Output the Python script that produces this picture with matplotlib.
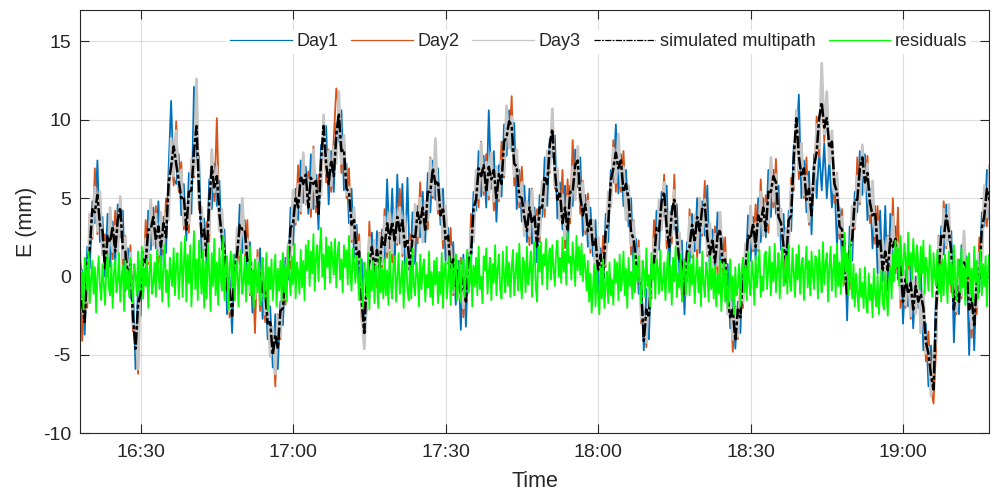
from __future__ import annotations

import matplotlib

matplotlib.use("Agg")

import matplotlib.dates as mdates
import matplotlib.pyplot as plt
import numpy as np

# Series start at 16:18:00, E component in mm
START = np.datetime64("2021-01-01T16:18:00")
DAY_STEP_S = 30  # days and multipath: one value every 30 s
RES_STEP_S = 15  # residuals: one value every 15 s

day1 = [
    -1.1, 0.4, -3.7, 1.9, 0.5, 4.8, 3.4, 7.4, 2.2, 3.8, 0.0, 4.0, 0.6, 3.5, 0.7, 4.6, 2.5, 4.2, -0.9, 1.8,
    -1.4, -0.6, -5.9, -0.4, -2.5, 1.6, 0.1, 4.2, 1.7, 4.4, 1.8, 4.8, 0.3, 3.8, 1.5, 6.8, 11.2, 6.2, 5.9, 7.8,
    3.9, 5.9, 2.3, 6.6, 4.0, 12.1, 7.6, 7.7, 1.2, 3.7, 0.8, 6.2, 4.3, 7.2, 4.5, 6.1, 1.7, 3.0, -2.4, 0.0,
    -3.6, 1.4, 0.8, 4.6, 1.5, 3.6, 0.1, 2.2, -2.3, 1.0, -1.0, 1.8, -2.7, -0.5, -4.0, -1.9, -5.8, -2.4, -5.9, -1.6,
    -3.1, 1.2, -0.2, 4.4, 2.0, 5.6, 3.6, 7.4, 4.7, 7.0, 4.0, 7.8, 4.3, 6.5, 3.0, 8.4, 7.7, 9.6, 4.6, 8.0,
    5.4, 9.8, 8.6, 10.6, 5.5, 7.2, 3.4, 5.6, 1.2, 3.3, 0.0, 1.1, -4.2, 0.2, 0.0, 2.8, -0.3, 2.9, -0.7, 3.0,
    0.9, 6.2, 1.8, 5.6, 0.8, 6.5, 2.1, 5.9, 0.7, 6.3, 0.0, 4.1, 0.8, 4.5, 2.5, 5.4, 2.2, 6.6, 4.1, 7.4,
    4.9, 6.9, 3.3, 5.6, 1.0, 3.1, -0.4, 2.2, -1.8, 1.0, -3.4, 1.4, -3.2, 1.5, 0.5, 5.4, 4.2, 8.0, 5.1, 7.7,
    4.4, 10.6, 5.6, 8.0, 3.5, 7.1, 5.1, 9.7, 7.7, 10.6, 8.0, 9.8, 4.3, 6.8, 3.5, 5.8, 2.2, 5.6, 2.1, 4.4,
    0.9, 5.2, 3.8, 7.6, 4.5, 8.8, 7.6, 9.0, 3.7, 6.0, 3.0, 5.8, 1.3, 5.8, 4.5, 8.1, 5.7, 7.6, 2.6, 5.2,
    1.9, 4.4, 1.3, 3.6, -1.0, 1.8, -0.9, 4.0, 2.2, 6.8, 6.0, 9.7, 5.3, 7.8, 4.5, 6.8, 3.2, 5.0, 0.1, 2.4,
    -1.1, -0.1, -4.7, -0.8, -4.0, 0.8, 0.1, 4.2, 1.7, 5.4, 3.8, 5.8, 0.3, 4.5, 3.0, 4.6, 0.2, 2.3, -2.4, 2.2,
    0.9, 4.0, 1.6, 5.0, 1.5, 4.8, 2.6, 5.8, 0.2, 3.0, 0.5, 4.1, 0.3, 2.5, -1.0, 0.8, -3.3, -1.0, -4.6, -1.6,
    -3.6, 0.9, -0.2, 3.9, 1.0, 3.8, 1.1, 5.0, 2.2, 5.0, 2.5, 6.8, 3.8, 6.8, 4.0, 5.8, 1.7, 4.0, -0.4, 4.2,
    2.9, 8.4, 8.3, 11.6, 5.0, 7.4, 4.1, 6.7, 2.7, 7.8, 5.0, 8.0, 5.5, 8.5, 5.0, 7.5, 4.4, 6.2, 2.0, 4.4,
    0.9, 2.4, -2.8, 3.2, 1.0, 5.4, 4.1, 8.0, 5.2, 7.8, 3.6, 5.6, 1.8, 4.5, 0.2, 4.2, -0.3, 4.5, -0.9, 4.0,
    0.9, 3.2, -0.2, 1.9, -3.0, 0.4, -1.9, 0.7, -3.3, 0.0, -2.0, 0.4, -4.7, -3.0, -7.0, -4.4, -6.8, -1.0, -0.9, 3.2,
    1.4, 4.6, 2.3, 2.9, -4.2, -0.2, -2.4, 2.0, -0.3, 1.3, -5.0, 0.1, -4.7, 0.0, -1.0, 4.1, 3.2, 6.8, 3.6, 7.2,
]

day2 = [
    2.3, -4.1, -1.5, -2.0, 4.0, 2.4, 6.9, 2.7, 5.2, 1.5, 2.7, 0.0, 4.2, 1.1, 4.2, 1.9, 4.9, 0.6, 2.6, -0.7,
    2.0, -3.5, -3.2, -6.2, 1.0, -0.7, 3.6, 0.8, 4.7, 2.2, 4.5, 0.8, 3.9, 1.4, 5.0, 4.2, 8.6, 5.8, 9.9, 5.4,
    7.3, 3.0, 4.5, 2.8, 7.5, 6.3, 11.1, 4.3, 4.2, 1.4, 3.5, 2.2, 7.9, 4.8, 10.1, 3.4, 4.1, -0.6, 1.1, -2.6,
    -0.2, -1.5, 3.0, 0.8, 5.0, 1.3, 3.6, -1.2, 0.7, -3.6, 1.7, -2.2, 0.9, -2.9, -0.5, -4.6, -3.4, -7.0, -2.4, -4.0,
    0.3, -1.8, 2.0, 0.5, 5.5, 3.3, 7.1, 4.0, 7.7, 4.8, 6.7, 3.8, 8.3, 4.1, 6.5, 5.6, 10.1, 6.0, 8.1, 5.4,
    8.8, 12.0, 10.8, 6.6, 9.0, 5.0, 6.9, 2.2, 4.2, 1.0, 2.7, -2.9, -1.6, -2.2, 3.5, 0.2, 2.1, -0.7, 2.8, 0.6,
    4.3, 1.2, 4.0, 0.9, 4.3, 2.0, 5.6, 1.3, 3.7, 0.8, 2.7, 0.1, 4.4, 2.1, 6.0, 2.6, 4.6, 3.0, 7.6, 5.0,
    8.3, 4.0, 5.5, 1.8, 4.5, 0.8, 3.1, -1.2, 1.2, -1.2, 1.2, -2.6, 0.4, -0.9, 4.0, 2.6, 6.6, 4.4, 8.6, 5.2,
    7.8, 4.9, 7.8, 4.2, 7.0, 4.8, 8.6, 6.3, 10.7, 8.2, 11.5, 5.8, 7.9, 4.4, 7.0, 3.2, 4.6, 2.0, 5.6, 2.0,
    4.3, 2.2, 6.0, 3.8, 8.0, 6.6, 10.5, 5.6, 6.7, 3.8, 6.8, 1.8, 6.2, 3.4, 8.7, 5.4, 8.1, 4.0, 6.1, 2.7,
    5.3, 1.5, 3.5, -0.2, 2.5, -0.4, 2.6, 0.6, 5.2, 4.5, 8.7, 5.4, 8.9, 5.4, 8.0, 4.2, 5.6, 1.4, 3.6, 0.0,
    2.3, -3.0, -2.5, -4.5, -0.5, -1.4, 3.6, 0.8, 4.7, 3.2, 6.5, 1.8, 3.9, 2.1, 6.5, 1.9, 2.6, -1.3, 1.1, -0.3,
    4.3, 1.2, 3.8, 1.2, 5.0, 2.6, 6.1, 1.3, 3.2, 0.8, 3.2, 0.1, 3.9, 0.1, 2.5, -1.8, -0.9, -4.8, -1.9, -4.0,
    -0.2, -2.0, 2.0, 0.0, 4.5, 1.6, 4.6, 1.6, 6.2, 2.8, 5.2, 2.8, 7.4, 4.4, 7.5, 3.2, 4.1, 0.4, 3.1, 1.7,
    6.3, 5.5, 10.5, 6.2, 8.5, 5.0, 7.6, 3.3, 5.7, 5.5, 10.2, 7.6, 12.5, 8.6, 11.5, 7.6, 9.1, 4.7, 6.6, 2.4,
    4.3, -0.5, 0.5, -0.8, 4.5, 3.0, 7.6, 4.6, 8.2, 5.5, 7.7, 3.4, 5.9, 2.1, 4.5, 0.6, 2.1, -0.8, 2.6, 0.4,
    5.0, 0.2, 4.4, -2.0, 0.5, -2.0, 1.6, -2.7, -0.3, -2.2, 0.7, -3.6, -1.1, -5.4, -3.5, -7.1, -8.1, -4.6, 2.6, 0.7,
    4.8, 1.8, 4.5, -1.0, 0.0, -2.4, 1.1, -1.4, 2.7, -1.0, 0.2, -3.9, -1.1, -2.4, 2.5, 1.4, 5.6, 3.2, 7.1, 4.7,
]

day3 = [
    1.8, -2.2, -1.2, -1.6, 4.0, 2.6, 5.7, 2.9, 5.4, 1.4, 2.2, 0.6, 4.4, 1.6, 3.2, 1.4, 5.1, 1.2, 2.5, -0.4,
    1.5, -3.2, -3.1, -5.9, 1.0, -0.5, 2.4, 1.0, 4.9, 2.0, 4.0, 1.4, 4.1, 1.8, 4.0, 3.6, 8.8, 6.4, 9.3, 5.6,
    6.8, 3.3, 4.6, 3.4, 7.5, 6.5, 12.6, 4.5, 4.4, 1.3, 3.0, 2.8, 8.1, 5.4, 7.0, 2.9, 4.3, 0.0, 1.0, -2.2,
    -0.7, -1.2, 3.1, 1.4, 5.0, 1.5, 2.4, -1.0, 0.9, -1.4, 1.2, -1.6, 1.1, -2.4, -1.5, -5.1, -3.2, -6.2, -2.5, -3.8,
    -0.2, -1.4, 2.1, 1.1, 5.5, 3.5, 5.9, 4.2, 7.9, 4.6, 6.2, 4.4, 8.1, 4.6, 5.5, 5.2, 10.3, 6.6, 8.0, 5.8,
    8.3, 7.2, 11.8, 7.2, 9.0, 5.2, 5.7, 2.4, 4.4, 0.9, 2.2, -2.3, -4.6, -1.6, 2.5, -0.4, 2.3, -0.1, 2.7, 0.8,
    3.8, 1.6, 4.1, 1.5, 4.3, 2.2, 4.4, 1.5, 3.9, 0.6, 2.2, 0.7, 4.6, 2.6, 5.0, 2.2, 4.8, 3.6, 7.5, 5.2,
    8.8, 4.3, 5.6, 2.4, 4.5, 1.0, 1.9, -1.0, 1.4, -1.4, 0.7, -2.0, 0.6, -0.4, 3.0, 2.2, 6.8, 5.0, 8.5, 5.5,
    7.3, 5.2, 7.9, 4.8, 7.0, 5.0, 7.4, 6.5, 10.9, 8.2, 10.2, 6.4, 8.1, 4.8, 6.0, 2.6, 4.8, 2.6, 5.5, 2.2,
    3.8, 2.6, 6.1, 4.4, 8.0, 6.8, 10.7, 5.8, 6.9, 3.6, 5.2, 2.4, 5.1, 3.8, 7.0, 4.9, 8.3, 4.6, 6.0, 3.0,
    4.8, 1.8, 3.6, 0.4, 2.5, -0.2, 1.4, 0.8, 5.4, 4.4, 8.2, 6.0, 9.1, 5.8, 7.0, 3.6, 5.8, 2.0, 3.5, 0.2,
    1.8, -2.7, -2.4, -4.2, -0.5, -1.2, 2.4, 1.0, 4.9, 3.0, 6.0, 2.4, 4.1, 2.6, 5.5, 1.4, 2.8, -0.7, 1.0, 0.0,
    3.8, 1.4, 3.9, 1.8, 5.0, 2.8, 4.9, 1.5, 3.4, 0.6, 2.7, 0.7, 4.1, 0.6, 1.5, -2.4, -0.7, -4.0, -2.0, -3.8,
    -0.7, -1.7, 2.1, 0.6, 4.5, 1.8, 3.4, 1.8, 5.4, 2.6, 4.7, 3.4, 7.6, 4.8, 6.5, 2.6, 4.3, 1.0, 3.0, 2.0,
    5.8, 5.8, 10.6, 6.8, 8.5, 5.2, 6.4, 3.5, 5.9, 5.4, 9.7, 8.2, 13.6, 9.1, 11.8, 7.2, 9.3, 5.3, 6.5, 2.8,
    3.8, -0.2, 0.6, -0.2, 4.5, 3.2, 6.4, 4.8, 8.4, 5.4, 7.2, 4.0, 6.1, 2.6, 3.5, 0.2, 2.3, -0.2, 2.5, 0.8,
    3.8, 0.6, 2.1, -1.4, 0.5, -1.8, 0.4, -2.5, -0.1, -2.4, 0.2, -3.6, -0.9, -4.9, -4.5, -7.6, -5.2, -4.0, 2.5, 1.0,
    4.3, 2.0, 4.6, -0.4, 0.0, -2.2, -0.1, -1.2, 2.9, -1.1, -0.3, -3.3, -0.9, -1.9, 1.5, 0.9, 5.8, 3.8, 7.0, 5.0,
]

multipath = [
    1.2, -1.8, -2.9, 0.8, 1.8, 4.3, 4.1, 5.2, 3.3, 2.9, 0.4, 2.6, 2.2, 3.2, 1.6, 3.6, 4.4, 1.8, 1.6, 0.0,
    0.8, -2.6, -4.6, -1.8, -1.1, 1.1, 0.9, 3.0, 3.0, 3.8, 2.3, 3.2, 1.9, 3.4, 2.5, 5.9, 7.0, 8.3, 7.2, 6.1,
    5.0, 5.1, 3.0, 5.4, 5.5, 8.0, 9.6, 5.3, 2.5, 3.0, 1.3, 4.8, 7.0, 5.6, 6.4, 4.0, 2.5, 1.8, -1.0, -0.7,
    -2.5, 0.6, 1.5, 3.3, 3.0, 3.0, 1.0, 1.1, -1.0, 0.4, -0.6, 0.3, -1.0, -0.9, -3.0, -2.9, -5.0, -3.7, -4.6, -2.2,
    -2.0, 0.4, 0.4, 3.1, 3.4, 5.1, 4.4, 6.4, 5.9, 6.5, 4.4, 6.3, 5.9, 6.1, 3.9, 7.4, 9.6, 7.2, 5.9, 7.4,
    6.4, 9.0, 10.4, 8.0, 8.1, 5.6, 5.4, 3.3, 3.6, 1.4, 1.6, -1.6, -3.6, -0.1, 0.9, 1.9, 0.4, 1.7, 0.6, 2.5,
    1.9, 3.4, 2.4, 3.5, 2.2, 3.8, 2.9, 3.6, 1.9, 2.4, 0.4, 2.6, 2.4, 4.1, 3.4, 4.4, 2.9, 5.4, 5.4, 6.9,
    5.9, 6.1, 3.9, 4.4, 2.4, 2.6, 0.4, 1.1, -0.6, 0.4, -1.1, -0.1, -1.6, 1.1, 1.4, 4.4, 4.9, 6.9, 6.4, 7.1,
    5.4, 7.0, 6.2, 6.8, 4.9, 6.6, 5.9, 8.6, 8.9, 9.9, 9.6, 7.2, 7.0, 5.1, 5.0, 3.8, 2.9, 4.4, 3.4, 3.9,
    1.9, 4.4, 4.4, 6.4, 5.9, 8.4, 9.4, 6.8, 4.9, 5.4, 3.4, 4.4, 2.9, 5.4, 5.4, 7.1, 7.4, 5.1, 3.9, 4.6,
    2.9, 3.6, 1.9, 2.4, 0.4, 1.4, -0.1, 2.9, 3.4, 6.1, 6.9, 7.9, 6.9, 7.4, 5.4, 5.9, 4.9, 2.8, 2.4, 0.9,
    -0.1, -0.9, -4.1, -2.1, -2.6, 0.4, 0.9, 3.1, 2.9, 4.8, 5.4, 3.1, 1.9, 4.1, 4.9, 2.6, 0.9, 1.1, -1.1, 1.6,
    1.9, 3.3, 2.2, 3.8, 2.9, 4.4, 4.6, 2.5, 1.4, 2.4, 0.9, 2.6, 3.0, 0.9, 1.1, -1.4, -2.6, -2.1, -4.1, -2.1,
    -2.6, 0.1, 0.4, 2.6, 2.4, 3.4, 1.9, 3.9, 3.4, 4.4, 2.9, 5.4, 5.4, 6.4, 6.0, 3.8, 3.4, 1.9, 0.9, 3.6,
    3.9, 7.6, 10.1, 7.7, 6.4, 6.9, 4.9, 5.6, 3.9, 7.1, 7.9, 10.1, 11.1, 9.5, 10.1, 8.2, 8.6, 5.9, 5.4, 3.2,
    3.0, 0.4, -1.1, 1.9, 2.4, 4.9, 4.9, 6.9, 7.6, 6.0, 6.6, 4.7, 3.9, 4.1, 1.9, 2.4, 0.4, 1.6, 0.4, 2.4,
    1.9, 2.4, 0.4, 0.6, -1.6, -0.1, -1.1, -0.4, -2.1, -0.6, -1.6, -1.1, -2.0, -4.2, -4.9, -6.3, -7.2, -2.1, 0.4, 2.6,
    2.4, 3.9, 2.9, 1.6, -2.1, -0.6, -1.6, 0.9, 0.9, 0.6, -2.1, -1.4, -3.1, -0.4, -0.1, 3.1, 3.9, 5.6, 4.9, 6.0,
]

residuals = [
    0.9, -1.4, 0.3, -2.1, 1.2, 0.4, -0.9, 1.6, -1.7, -0.2, 1.0, -1.1, 0.6, -2.3, 0.1, 1.3, -0.6, -1.5, 0.8, -0.4,
    -1.8, 0.5, 1.4, -0.7, -1.2, 0.9, -2.0, 0.2, 1.1, -1.0, -0.3, 1.5, -1.6, 0.0, 0.7, -2.2, 1.0, -0.8, 0.4, -1.3,
    1.2, -0.5, -1.7, 0.8, 0.1, -1.2, 1.6, -0.9, -0.2, 1.9, -1.4, 0.5, -0.6, 1.1, -2.0, 0.3, 1.4, -1.1, -0.4, 0.9,
    -1.3, 1.7, 0.2, -0.8, 1.3, -1.6, 0.6, 2.0, -1.0, 0.4, -1.9, 1.2, 0.0, -0.6, 1.8, -1.2, 0.7, 1.5, -1.4, 0.3,
    2.2, -1.3, 0.8, 2.6, -1.6, 1.4, -0.4, 2.0, -1.9, 0.6, 2.9, -0.8, 1.1, -1.5, 2.3, 0.2, -1.1, 1.7, -2.0, 1.0,
    -1.4, 2.1, 0.4, -2.2, 1.5, -0.6, 2.4, -1.2, 0.9, -1.8, 1.8, 0.0, -0.9, 2.6, -1.5, 0.7, 1.3, -2.1, 0.5, 1.6,
    -0.7, 1.4, -1.5, 0.6, 1.0, -1.9, 0.2, 1.7, -1.1, -0.3, 1.3, -1.6, 0.8, -0.5, 1.9, -1.2, 0.4, -2.0, 1.1, 0.1,
    -1.0, 0.9, -1.8, 0.3, 1.2, -1.4, -0.4, 1.5, -2.2, 0.6, -0.8, 1.1, -1.5, 0.0, 1.4, -1.9, 0.5, -0.9, 1.0, -1.6,
    1.5, -1.0, 0.7, -1.6, 1.9, 0.1, -1.2, 1.3, -0.5, 2.1, -1.4, 0.9, 0.3, -1.1, 1.7, -0.7, 1.0, -1.5, 2.0, 0.4,
    2.3, -0.6, 1.6, 0.2, 2.7, -0.9, 1.2, 2.0, -0.3, 1.8, 3.1, 0.0, 1.4, -0.8, 2.5, 0.6, 1.9, -0.4, 2.2, 1.1,
    0.1, 2.4, -0.7, 1.5, 2.2, -0.2, 1.1, -1.0, 2.0, 0.6, 1.7, -0.5, 2.6, 0.3, -0.9, 1.8, 0.9, -0.4, 1.3, 0.0,
    -1.5, 1.2, -0.6, -1.9, 0.9, 0.2, -1.3, 1.5, -2.1, 0.4, -0.9, 1.0, -1.7, 0.7, -0.3, -2.0, 1.3, -1.0, 0.5, -1.4,
    1.1, -1.2, 0.4, -1.8, 1.6, -0.5, -1.4, 0.8, 1.3, -1.6, 0.0, 1.5, -1.1, -0.3, 1.0, -2.0, 0.6, 1.2, -0.9, -1.5,
    0.7, -1.4, 1.8, -0.6, -1.2, 0.9, 0.2, -1.9, 1.4, -0.8, 0.5, 1.1, -1.6, 0.1, -0.7, 1.6, -1.3, 0.3, -1.8, 1.0,
    -0.5, 1.2, -1.7, 0.3, -1.1, 1.5, -2.0, 0.6, 0.9, -1.4, -0.2, 1.3, -1.8, 0.8, -0.9, 0.2, 1.4, -1.5, -0.4, 1.0,
    -1.6, 0.5, 1.1, -1.3, 0.2, 1.7, -1.0, -0.4, 1.4, -1.9, 0.7, -0.6, 1.2, -1.2, 1.9, -0.8, 0.0, -1.7, 1.3, 0.4,
    1.8, -1.1, 0.3, 1.2, -1.5, 0.8, -0.4, 2.0, -1.2, 0.5, 1.4, -0.8, -1.4, 1.6, 0.1, -1.0, 1.9, -0.6, 0.9, -1.3,
    0.6, 1.7, -1.2, 0.2, 1.5, -0.9, 2.1, -0.3, -1.4, 1.2, 0.8, -1.0, 1.9, -0.5, 0.4, 1.6, -1.3, 1.0, 2.2, -0.7,
    -1.6, 1.9, 0.3, 2.2, -0.5, 1.4, 0.7, 2.4, -0.8, 1.1, 1.8, -0.2, 2.0, 0.5, -0.6, 1.6, 2.3, 0.0, 1.2, -0.4,
    2.5, 0.3, 1.6, -0.5, 2.8, 0.9, 1.3, -0.2, 2.2, 1.0, -0.6, 2.6, 0.4, 1.9, 0.1, 2.1, -0.3, 1.4, 0.6, -0.9,
    1.0, -1.6, 0.2, -2.3, -0.7, 0.8, -1.9, 0.4, -1.1, -2.4, 0.6, -1.4, 1.1, -2.0, -0.5, 0.3, -1.7, 0.9, -1.2, -0.2,
    -1.8, 1.1, -0.4, 0.9, -1.5, 1.4, -0.9, -0.2, 1.6, -1.2, 0.5, -2.0, 1.2, -0.6, 0.3, -1.4, 1.5, -1.0, 0.7, -0.3,
    1.3, -0.8, -1.7, 1.0, 0.4, -1.3, 1.8, -0.6, 0.1, -1.9, 1.5, -0.2, 0.8, -1.4, 1.1, 0.6, -1.1, 1.7, -0.9, -0.4,
    0.9, -1.5, 0.3, 1.6, -1.0, 0.7, -1.8, 1.2, -0.3, 1.9, -1.3, 0.2, -0.7, 1.4, -1.6, 0.5, 1.0, -1.2, 0.1, 1.5,
    -1.2, 0.8, -0.5, 1.4, -1.7, 0.1, 1.2, -1.0, 0.6, -1.9, 1.6, -0.4, -1.3, 0.9, 0.3, -1.6, 1.3, -0.8, 0.5, -1.4,
    0.7, -1.9, 0.2, -1.1, 1.0, -2.2, -0.3, 0.9, -1.6, 0.4, -2.0, -0.8, 1.1, -1.5, 0.0, -2.4, 0.6, -1.2, -0.6, 0.8,
    -1.9, 0.4, 1.2, -1.0, 0.7, -1.5, 1.6, -0.5, -1.2, 1.0, 0.2, -1.8, 1.3, -0.7, 0.5, 1.7, -1.3, 0.0, -0.9, 1.4,
    1.6, -0.8, 0.5, 1.9, -1.2, 0.9, -0.3, 2.1, -1.0, 0.4, 1.5, -1.4, 0.8, 1.8, -0.6, 0.2, 1.3, -1.1, 2.0, -0.4,
    -0.9, 1.8, 0.3, -1.3, 1.4, -0.2, 2.0, -1.1, 0.7, 1.2, -1.5, 0.5, 1.9, -0.7, 1.0, -1.2, 1.6, 0.1, -0.8, 1.3,
    1.1, -1.4, 1.7, 0.2, -1.0, 2.2, -0.5, 0.8, 1.5, -1.6, 0.6, 1.9, -0.9, 0.4, 1.4, -1.3, 2.1, -0.6, 0.9, -1.1,
    1.9, -0.6, 2.8, 0.3, 1.5, -1.2, 2.3, 0.0, -1.4, 0.8, -1.9, 0.2, -1.0, -2.2, 0.5, -1.3, -0.4, -2.0, 0.6, -1.6,
    -2.3, 0.2, -1.5, -0.5, -2.6, 0.5, -1.1, -1.9, 0.1, -2.4, -0.8, 0.4, -1.7, -2.1, 0.3, -1.2, -2.5, -0.2, 0.6, -1.4,
    1.4, -0.3, 2.3, 0.6, 1.8, -0.6, 2.6, 0.9, 0.1, 2.1, 1.2, -0.4, 2.8, 0.7, 1.5, -0.2, 2.4, 1.0, 0.3, 2.0,
    0.9, -0.8, 1.9, 0.2, 2.3, -1.1, 1.2, 0.5, -0.9, 2.0, 0.7, -1.3, 1.5, 0.0, -0.6, 1.7, -1.0, 0.8, -1.6, 1.1,
    -1.2, 1.4, 0.4, -1.7, 1.6, -0.5, 0.9, -1.3, 2.0, -0.2, -1.5, 1.1, 0.3, -1.0, 1.8, -0.7, 0.6, -1.8, 1.2, 0.0,
    1.5, -1.1, 0.5, -1.6, 1.9, -0.4, 1.0, -1.4, 0.2, 1.7, -1.2, 0.8, -0.6, 1.3, -1.9, 0.6, 1.4, -0.9, -0.2, 1.1,
]

labels = ["Day1", "Day2", "Day3", "simulated multipath", "residuals"]
y_ticks = [-10, -5, 0, 5, 10, 15]

AX_COLOR = "#262626"


def _times(values: list[float], step_s: int) -> np.ndarray:
    """Sample times for a series recorded every step_s seconds."""
    return START + np.timedelta64(step_s, "s") * np.arange(len(values))


def main() -> None:
    plt.rcParams["font.family"] = ["Liberation Sans", "DejaVu Sans"]
    plt.rcParams["axes.unicode_minus"] = False

    fig = plt.figure(figsize=(9.92, 4.97), dpi=100)
    ax = fig.add_axes([0.0806, 0.128, 0.9164, 0.852])

    series = [
        (day1, DAY_STEP_S, dict(color="#0072BD", lw=1.3)),
        (day2, DAY_STEP_S, dict(color="#D95319", lw=1.3)),
        (day3, DAY_STEP_S, dict(color="#C6C6C6", lw=2.0)),
        (multipath, DAY_STEP_S, dict(color="black", lw=1.8, ls=(0, (5, 1, 1.5, 1)))),
        (residuals, RES_STEP_S, dict(color="#00FF00", lw=1.3)),
    ]
    for (values, step_s, style), label in zip(series, labels):
        ax.plot(_times(values, step_s), values, label=label, **style)

    ax.set_xlim(np.datetime64("2021-01-01T16:18:04"), np.datetime64("2021-01-01T19:16:55"))
    ax.set_ylim(-10, 17)
    ax.set_yticks(y_ticks)
    ax.xaxis.set_major_locator(mdates.MinuteLocator(byminute=[0, 30]))
    ax.xaxis.set_major_formatter(mdates.DateFormatter("%H:%M"))

    ax.grid(True, color=AX_COLOR, alpha=0.15, lw=0.8)
    ax.set_axisbelow(True)
    for spine in ax.spines.values():
        spine.set_color(AX_COLOR)
        spine.set_linewidth(0.8)
    ax.tick_params(axis="both", direction="in", top=True, right=True, length=6.5,
                   width=0.8, color=AX_COLOR, labelcolor=AX_COLOR, labelsize=14)
    ax.tick_params(axis="x", pad=8)
    ax.tick_params(axis="y", pad=6.5)

    ax.set_xlabel("Time", fontsize=15.5, color=AX_COLOR)
    ax.set_ylabel("E (mm)", fontsize=15.5, color=AX_COLOR)
    ax.xaxis.set_label_coords(0.5, -0.09)
    ax.yaxis.set_label_coords(-0.047, 0.5)

    leg = ax.legend(loc="center left", bbox_to_anchor=(0.161, 0.925), ncol=5, fontsize=13,
                    frameon=True, fancybox=False, framealpha=1, edgecolor="none",
                    borderpad=0.2, borderaxespad=0, handlelength=3.42,
                    handletextpad=0.25, columnspacing=0.72)
    for text in leg.get_texts():
        text.set_color(AX_COLOR)
    # thin handles in the key, whatever the data line width
    for handle in leg.legend_handles:
        handle.set_linewidth(0.9)

    fig.savefig("out.png", dpi=100, facecolor="white")


if __name__ == "__main__":
    main()
